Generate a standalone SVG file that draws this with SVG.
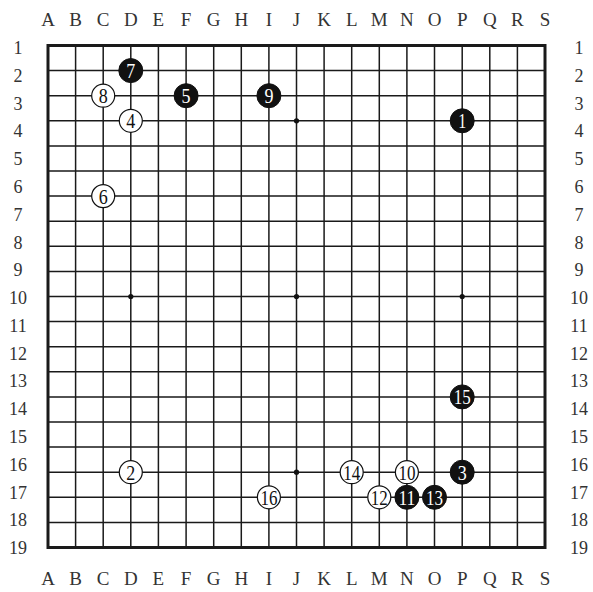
<svg xmlns="http://www.w3.org/2000/svg" width="593" height="592" viewBox="0 0 593 592">
<style>
.lbl{font-family:'Liberation Serif','DejaVu Serif',serif;font-size:19px;fill:#333;text-anchor:middle}
.num{font-family:'Liberation Serif','DejaVu Serif',serif;font-size:18px;fill:#333;text-anchor:middle}
.grid{stroke:#1a1a1a;stroke-width:1.5;fill:none}
.border{stroke:#1a1a1a;stroke-width:3;fill:none}
.star{fill:#111}
.b circle{fill:#111;stroke:#111;stroke-width:1}
.w circle{fill:#fff;stroke:#111;stroke-width:1.2}
.b text,.w text{font-family:'Liberation Serif','DejaVu Serif',serif;font-size:22px;text-anchor:middle}
.b text{fill:#fff}
.w text{fill:#111}
</style>
<rect width="593" height="592" fill="#fff"/>
<g id="labels-top">
<text class="lbl" x="48" y="26">A</text><text class="lbl" x="75.6" y="26">B</text><text class="lbl" x="103.2" y="26">C</text><text class="lbl" x="130.8" y="26">D</text><text class="lbl" x="158.4" y="26">E</text><text class="lbl" x="186.1" y="26">F</text><text class="lbl" x="213.7" y="26">G</text><text class="lbl" x="241.3" y="26">H</text><text class="lbl" x="268.9" y="26">I</text><text class="lbl" x="296.5" y="26">J</text><text class="lbl" x="324.1" y="26">K</text><text class="lbl" x="351.7" y="26">L</text><text class="lbl" x="379.3" y="26">M</text><text class="lbl" x="406.9" y="26">N</text><text class="lbl" x="434.5" y="26">O</text><text class="lbl" x="462.2" y="26">P</text><text class="lbl" x="489.8" y="26">Q</text><text class="lbl" x="517.4" y="26">R</text><text class="lbl" x="545" y="26">S</text>
</g>
<g id="labels-bottom">
<text class="lbl" x="48" y="585">A</text><text class="lbl" x="75.6" y="585">B</text><text class="lbl" x="103.2" y="585">C</text><text class="lbl" x="130.8" y="585">D</text><text class="lbl" x="158.4" y="585">E</text><text class="lbl" x="186.1" y="585">F</text><text class="lbl" x="213.7" y="585">G</text><text class="lbl" x="241.3" y="585">H</text><text class="lbl" x="268.9" y="585">I</text><text class="lbl" x="296.5" y="585">J</text><text class="lbl" x="324.1" y="585">K</text><text class="lbl" x="351.7" y="585">L</text><text class="lbl" x="379.3" y="585">M</text><text class="lbl" x="406.9" y="585">N</text><text class="lbl" x="434.5" y="585">O</text><text class="lbl" x="462.2" y="585">P</text><text class="lbl" x="489.8" y="585">Q</text><text class="lbl" x="517.4" y="585">R</text><text class="lbl" x="545" y="585">S</text>
</g>
<g id="labels-left">
<text class="num" x="18" y="54">1</text><text class="num" x="18" y="81.8">2</text><text class="num" x="18" y="109.6">3</text><text class="num" x="18" y="137.3">4</text><text class="num" x="18" y="165.1">5</text><text class="num" x="18" y="192.9">6</text><text class="num" x="18" y="220.7">7</text><text class="num" x="18" y="248.5">8</text><text class="num" x="18" y="276.2">9</text><text class="num" x="18" y="304">10</text><text class="num" x="18" y="331.8">11</text><text class="num" x="18" y="359.6">12</text><text class="num" x="18" y="387.4">13</text><text class="num" x="18" y="415.1">14</text><text class="num" x="18" y="442.9">15</text><text class="num" x="18" y="470.7">16</text><text class="num" x="18" y="498.5">17</text><text class="num" x="18" y="526.3">18</text><text class="num" x="18" y="554">19</text>
</g>
<g id="labels-right">
<text class="num" x="579" y="54">1</text><text class="num" x="579" y="81.8">2</text><text class="num" x="579" y="109.6">3</text><text class="num" x="579" y="137.3">4</text><text class="num" x="579" y="165.1">5</text><text class="num" x="579" y="192.9">6</text><text class="num" x="579" y="220.7">7</text><text class="num" x="579" y="248.5">8</text><text class="num" x="579" y="276.2">9</text><text class="num" x="579" y="304">10</text><text class="num" x="579" y="331.8">11</text><text class="num" x="579" y="359.6">12</text><text class="num" x="579" y="387.4">13</text><text class="num" x="579" y="415.1">14</text><text class="num" x="579" y="442.9">15</text><text class="num" x="579" y="470.7">16</text><text class="num" x="579" y="498.5">17</text><text class="num" x="579" y="526.3">18</text><text class="num" x="579" y="554">19</text>
</g>
<g id="board">
<path class="grid" d="M75.6 45.5V547.5M103.2 45.5V547.5M130.8 45.5V547.5M158.4 45.5V547.5M186.1 45.5V547.5M213.7 45.5V547.5M241.3 45.5V547.5M268.9 45.5V547.5M296.5 45.5V547.5M324.1 45.5V547.5M351.7 45.5V547.5M379.3 45.5V547.5M406.9 45.5V547.5M434.5 45.5V547.5M462.2 45.5V547.5M489.8 45.5V547.5M517.4 45.5V547.5M48 70.6H545M48 95.7H545M48 120.8H545M48 145.9H545M48 171H545M48 196.1H545M48 221.2H545M48 246.3H545M48 271.4H545M48 296.5H545M48 321.6H545M48 346.7H545M48 371.8H545M48 396.9H545M48 422H545M48 447.1H545M48 472.2H545M48 497.3H545M48 522.4H545"/>
<rect class="border" x="48" y="45.5" width="497" height="502"/>
<circle class="star" cx="130.8" cy="296.5" r="2.6"/>
<circle class="star" cx="296.5" cy="296.5" r="2.6"/>
<circle class="star" cx="462.2" cy="296.5" r="2.6"/>
<circle class="star" cx="296.5" cy="120.8" r="2.6"/>
<circle class="star" cx="296.5" cy="472.2" r="2.6"/>
</g>
<g id="connectors"></g>
<g id="s1" class="b"><circle cx="462.2" cy="120.8" r="12"/><text x="462.2" y="128.3" textLength="8" lengthAdjust="spacingAndGlyphs">1</text></g>
<g id="s2" class="w"><circle cx="130.8" cy="472.2" r="11.5"/><text x="130.8" y="479.7" textLength="9" lengthAdjust="spacingAndGlyphs">2</text></g>
<g id="s3" class="b"><circle cx="462.2" cy="472.2" r="12"/><text x="462.2" y="479.7" textLength="9" lengthAdjust="spacingAndGlyphs">3</text></g>
<g id="s4" class="w"><circle cx="130.8" cy="120.8" r="11.5"/><text x="130.8" y="128.3" textLength="9" lengthAdjust="spacingAndGlyphs">4</text></g>
<g id="s5" class="b"><circle cx="186.1" cy="95.7" r="12"/><text x="186.1" y="103.2" textLength="9" lengthAdjust="spacingAndGlyphs">5</text></g>
<g id="s6" class="w"><circle cx="103.2" cy="196.1" r="11.5"/><text x="103.2" y="203.6" textLength="9" lengthAdjust="spacingAndGlyphs">6</text></g>
<g id="s7" class="b"><circle cx="130.8" cy="70.6" r="12"/><text x="130.8" y="78.1" textLength="9" lengthAdjust="spacingAndGlyphs">7</text></g>
<g id="s8" class="w"><circle cx="103.2" cy="95.7" r="11.5"/><text x="103.2" y="103.2" textLength="9" lengthAdjust="spacingAndGlyphs">8</text></g>
<g id="s9" class="b"><circle cx="268.9" cy="95.7" r="12"/><text x="268.9" y="103.2" textLength="9" lengthAdjust="spacingAndGlyphs">9</text></g>
<g id="s10" class="w"><circle cx="406.9" cy="472.2" r="11.5"/><text x="406.9" y="479.7" textLength="17" lengthAdjust="spacingAndGlyphs">10</text></g>
<g id="s11" class="b"><circle cx="406.9" cy="497.3" r="12"/><text x="406.9" y="504.8" textLength="17" lengthAdjust="spacingAndGlyphs">11</text></g>
<g id="s12" class="w"><circle cx="379.3" cy="497.3" r="11.5"/><text x="379.3" y="504.8" textLength="17" lengthAdjust="spacingAndGlyphs">12</text></g>
<g id="s13" class="b"><circle cx="434.5" cy="497.3" r="12"/><text x="434.5" y="504.8" textLength="17" lengthAdjust="spacingAndGlyphs">13</text></g>
<g id="s14" class="w"><circle cx="351.7" cy="472.2" r="11.5"/><text x="351.7" y="479.7" textLength="17" lengthAdjust="spacingAndGlyphs">14</text></g>
<g id="s15" class="b"><circle cx="462.2" cy="396.9" r="12"/><text x="462.2" y="404.4" textLength="17" lengthAdjust="spacingAndGlyphs">15</text></g>
<g id="s16" class="w"><circle cx="268.9" cy="497.3" r="11.5"/><text x="268.9" y="504.8" textLength="17" lengthAdjust="spacingAndGlyphs">16</text></g>
</svg>
